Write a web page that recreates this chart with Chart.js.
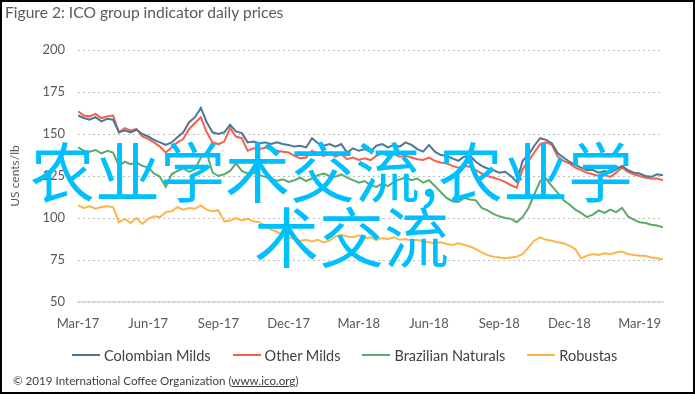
<!DOCTYPE html>
<html>
<head>
<meta charset="utf-8">
<script src="https://cdn.jsdelivr.net/npm/chart.js@4.4.1/dist/chart.umd.min.js"></script>
<style>
  html, body { margin: 0; padding: 0; background: #fff; }
  #wrap { position: relative; width: 695px; height: 394px; overflow: hidden; }
  #frame { position: absolute; left: 0; top: 0; width: 695px; height: 394px; box-sizing: border-box; border: 2px solid #000; pointer-events: none; }
  #title { position: absolute; left: 5px; top: 3px; font: 15.6px Lato, sans-serif; color: #595959; white-space: nowrap; }
  #credit { position: absolute; left: 13px; top: 374px; font: 11.6px Lato, sans-serif; color: #404040; white-space: nowrap; }
  #credit u { text-decoration: underline; }
  #legend { position: absolute; left: 72px; top: 346px; height: 18px; display: flex; align-items: center; gap: 22px; font: 14.5px Lato, sans-serif; color: #404040; white-space: nowrap; }
  #legend .item { display: flex; align-items: center; gap: 4px; }
  #legend .swatch { width: 28px; height: 2px; }
  .mark { position: absolute; font-family: "Noto Sans CJK SC", sans-serif; font-size: 65px; line-height: 65px; color: #00BFFF; white-space: nowrap; }
  canvas { position: absolute; left: 0; top: 0; }
</style>
</head>
<body>
<div id="wrap">
  <canvas id="chart" width="695" height="394"></canvas>
  <div id="title">Figure 2: ICO group indicator daily prices</div>
  <div id="legend"></div>
  <div id="credit">© 2019 International Coffee Organization (<u>www.ico.org</u>)</div>
  <div class="mark" style="left:30px;top:137px;">农业学术交流,农业学</div>
  <div class="mark" style="left:254px;top:202px;">术交流</div>
  <div id="frame"></div>
</div>
<script>
// months since Mar-17
const months = [
  0, 0.25, 0.5, 0.75, 1, 1.25, 1.5, 1.75, 2, 2.25, 2.5, 2.75, 3, 3.25, 3.5, 3.75,
  4, 4.25, 4.5, 4.75, 5, 5.25, 5.5, 5.75, 6, 6.25, 6.5, 6.75, 7, 7.25, 7.5, 7.75,
  8, 8.25, 8.5, 8.75, 9, 9.25, 9.5, 9.75, 10, 10.25, 10.5, 10.75, 11, 11.25, 11.5, 11.75,
  12, 12.25, 12.5, 12.75, 13, 13.25, 13.5, 13.75, 14, 14.25, 14.5, 14.75, 15, 15.25, 15.5, 15.75,
  16, 16.25, 16.5, 16.75, 17, 17.25, 17.5, 17.75, 18, 18.25, 18.5, 18.75, 19, 19.25, 19.5, 19.75,
  20, 20.25, 20.5, 20.75, 21, 21.25, 21.5, 21.75, 22, 22.25, 22.5, 22.75, 23, 23.25, 23.5, 23.75,
  24, 24.25, 24.5, 24.75, 25
];

const tickPositions = [0, 3, 6, 9, 12, 15, 18, 21, 24];
const tickLabels = ['Mar-17', 'Jun-17', 'Sep-17', 'Dec-17', 'Mar-18', 'Jun-18', 'Sep-18', 'Dec-18', 'Mar-19'];

const colombianMilds = [
  161, 159.5, 158.5, 160, 157.5, 159, 158.5, 151,
  152, 151, 152.5, 150, 148.5, 146.5, 145, 143.5,
  145, 148, 151, 157, 160, 165.5, 157, 151,
  150, 151, 155.5, 151.5, 150.5, 145, 145.5, 144.5,
  145, 144, 145, 144, 143.5, 142.5, 143, 142,
  147.5, 144.5, 143, 144, 142.5, 144, 139, 141.5,
  140, 141, 139.5, 143, 144, 142, 143.5, 142.5,
  145, 143.5, 141, 139.5, 143.5, 139.5, 137.5, 137,
  135.5, 134, 136.5, 137, 133.5, 131, 129.5, 128.5,
  127, 127.5, 125, 121.5, 134, 137.5, 143, 147.5,
  146.5, 144.5, 138.5, 136, 133.5, 131.5, 130, 128.5,
  128.5, 127, 128, 127, 129, 131, 128.5, 127,
  126.5, 125, 124.5, 126, 125.5
];

const otherMilds = [
  163.5, 161, 160.5, 162, 159.5, 160.5, 161, 151,
  153.5, 152, 153, 148.5, 147, 145, 142.5, 139,
  142, 145, 147, 153, 156.5, 160, 151, 145,
  144, 145.5, 153.5, 148.5, 147.5, 140, 141.5, 141,
  142, 141, 140, 139.5, 139, 137, 135.5, 136,
  140, 138, 137, 138.5, 136.5, 138, 135, 136,
  134.5, 135.5, 134.5, 137, 138.5, 137, 138, 136.5,
  137, 136, 135, 134.5, 136, 134, 133, 132.5,
  131, 130, 131, 130.5, 128.5, 126.5, 125, 124,
  123, 121.5, 119.5, 118, 129, 134, 139, 144,
  145, 143.5, 136.5, 134, 132.5, 130, 128.5, 127,
  126, 125, 125.5, 124.5, 127, 130, 127.5, 126,
  125, 124, 123.5, 123.5, 122.5
];

const brazilianNaturals = [
  142, 140, 139.5, 140.5, 138.5, 140, 139, 131,
  133.5, 132, 133, 131, 130, 126.5, 124.5, 118.5,
  126, 128, 129.5, 127.5, 129, 136, 139, 127,
  125, 126, 128, 132.5, 128, 126.5, 127, 125.5,
  124.5, 123.5, 122, 123, 121.5, 122.5, 124, 122,
  123.5, 125.5, 126.5, 125, 124.5, 126, 124, 122.5,
  121, 122, 119.5, 118.5, 120.5, 119, 121.5, 123,
  124, 122.5, 123.5, 121, 122.5, 119, 115.5, 112,
  110, 109.5, 112, 111, 110.5, 106, 104.5, 102.5,
  101, 100, 99.5, 97.5, 100.5, 106, 114, 122,
  123.5, 119, 115, 110.5, 108, 105, 103, 100.5,
  102, 104.5, 103, 105, 103.5, 106, 101, 99,
  97.5, 97, 96, 95.5, 94.5
];

const robustas = [
  107.5, 106, 107, 105.5, 106.5, 107, 106.5, 97.5,
  99.5, 97, 100, 96.5, 99.5, 101, 100.5, 103.5,
  104, 106.5, 105, 106, 105.5, 107.5, 105, 104,
  104.5, 98, 98.5, 100, 98.5, 99.5, 98, 97.5,
  95.5, 93, 92, 89.5, 88.5, 87.5, 86.5, 87,
  86, 87, 85.5, 86.5, 89, 90, 89, 88.5,
  89.5, 88, 88.5, 87, 88, 87.5, 88.5, 87,
  87.5, 86.5, 87, 86, 85.5, 85, 85.5, 84.5,
  84, 85, 84, 83, 81.5, 79.5, 78, 77,
  76.5, 76, 76.5, 77, 78.5, 82.5, 86.5, 88.5,
  87, 86.5, 85.5, 85, 83.5, 81.5, 76, 77.5,
  78.5, 78, 79, 78.5, 79.5, 80, 78.5, 78,
  77.5, 77.5, 76.5, 76, 75.5
];

const seriesNames = ['Colombian Milds', 'Other Milds', 'Brazilian Naturals', 'Robustas'];
const seriesColors = ['#4D7795', '#F4604C', '#5BAA68', '#FDB54B'];
const seriesValues = [colombianMilds, otherMilds, brazilianNaturals, robustas];

function toPoints(values) {
  return values.map((v, i) => ({ x: months[i], y: v }));
}

const datasets = seriesValues.map((vals, i) => ({
  label: seriesNames[i],
  data: toPoints(vals),
  borderColor: seriesColors[i],
  backgroundColor: seriesColors[i],
  borderWidth: 2,
  pointRadius: 0,
  tension: 0
}));

const chart = new Chart(document.getElementById('chart'), {
  type: 'line',
  data: { datasets },
  options: {
    responsive: false,
    animation: false,
    devicePixelRatio: 1,
    layout: { padding: { top: 50, right: 32, bottom: 52, left: 0 } },
    plugins: {
      tooltip: { enabled: false },
      legend: { display: false }
    },
    scales: {
      x: {
        type: 'linear',
        min: 0,
        max: 25,
        afterBuildTicks: s => { s.ticks = tickPositions.map(v => ({ value: v })); },
        afterFit: s => { s.height = 40; },
        grid: { display: false, drawTicks: false },
        border: { display: true, color: '#D9D9D9', width: 1.5 },
        ticks: {
          padding: 14,
          maxRotation: 0,
          autoSkip: false,
          color: '#595959',
          font: { family: 'Lato', size: 13 },
          callback: v => tickLabels[tickPositions.indexOf(v)] || ''
        }
      },
      y: {
        min: 50,
        max: 200,
        afterFit: s => { s.width = 78; },
        grid: { color: '#BDBDBD', lineWidth: 1, drawTicks: false, borderDash: [2, 3] },
        border: { display: false, dash: [2, 3] },
        ticks: {
          stepSize: 25,
          padding: 13,
          color: '#595959',
          font: { family: 'Lato', size: 13 }
        },
        title: {
          display: true,
          text: 'US cents/lb',
          color: '#595959',
          font: { family: 'Lato', size: 12 },
          padding: { top: 8, bottom: 0 }
        }
      }
    }
  }
});

// legend row built from the chart's datasets
const legendEl = document.getElementById('legend');
chart.data.datasets.forEach(ds => {
  const item = document.createElement('div');
  item.className = 'item';
  item.innerHTML = `<span class="swatch" style="background:${ds.borderColor}"></span><span>${ds.label}</span>`;
  legendEl.appendChild(item);
});
</script>
</body>
</html>
